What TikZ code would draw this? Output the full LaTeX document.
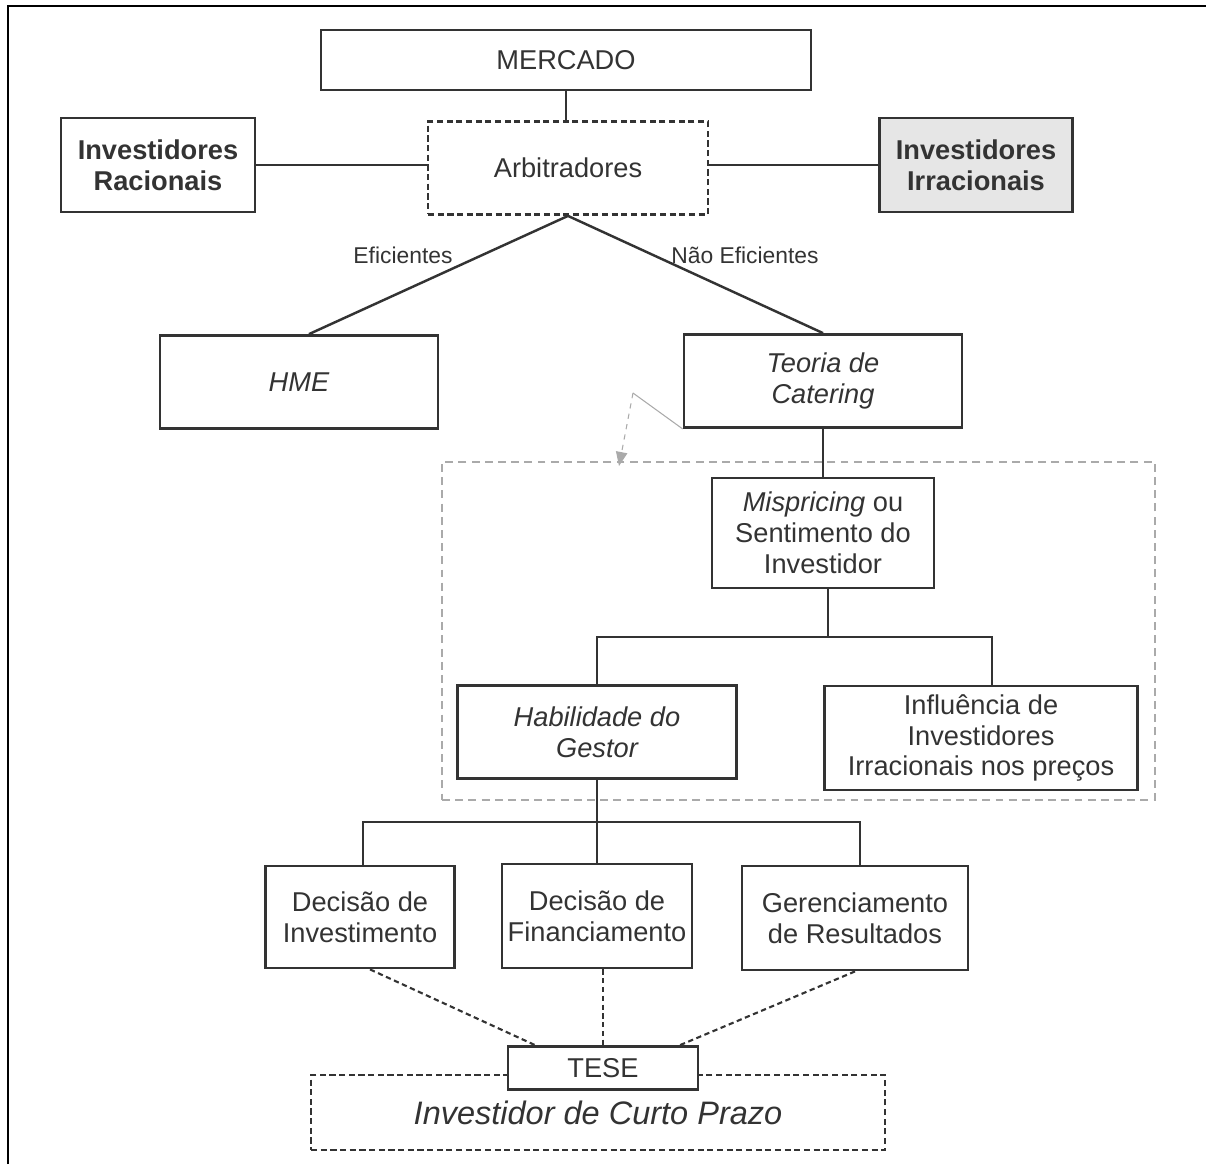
\documentclass[tikz,border=0pt]{standalone}
\usepackage{fontspec}
\setmainfont{Liberation Sans}
\usetikzlibrary{arrows.meta,positioning}
\definecolor{ink}{RGB}{51,51,51}
\definecolor{irrfill}{RGB}{230,230,230}
\definecolor{zonegray}{RGB}{170,170,170}
\newcommand{\boxfont}{\fontsize{15.5}{17.6}\selectfont}
\tikzset{
  box/.style      = {draw=ink, line width=1.6pt, inner sep=0pt, align=center,
                     text=ink, font=\boxfont},
  dashbox/.style  = {box, dash pattern=on 3.5pt off 2pt},
  link/.style     = {draw=ink, line width=1.4pt},
  dashlink/.style = {draw=ink, line width=1.2pt, dash pattern=on 3pt off 2pt},
  edgelabel/.style= {text=ink, font=\fontsize{13}{15}\selectfont},
  zone/.style     = {draw=zonegray, line width=1.5pt, dash pattern=on 4.5pt off 3pt},
  pointer/.style  = {draw=zonegray, line width=0.6pt},
}

\begin{document}
\begin{tikzpicture}[x=0.02cm,y=-0.02cm]
  \useasboundingbox (0,0) rectangle (1206,1164);
  % outer frame (only top and left edges visible)
  \draw[line width=1.1pt] (8,1164) -- (8,6) -- (1206,6);

  % ---------------- market level -----------------------------------------
  \node[box, minimum width=9.8cm, minimum height=1.2cm] (mercado) at (566,60) {MERCADO};
  \node[dashbox, minimum width=5.6cm, minimum height=1.86cm] (arb) at (568,168) {Arbitradores};
  \node[box, font=\boxfont\bfseries, minimum width=3.88cm, minimum height=1.88cm]
       (rac) at (158,165) {Investidores\\Racionais};
  \node[box, font=\boxfont\bfseries, fill=irrfill, minimum width=3.86cm, minimum height=1.88cm]
       (irr) at (976,165) {Investidores\\Irracionais};

  \draw[link] (mercado.south) -- (mercado.south |- arb.north);
  \draw[link] (rac.east) -- (rac.east -| arb.west);
  \draw[link] (irr.west) -- (irr.west -| arb.east);

  % ---------------- efficient / not efficient ----------------------------
  \node[box, font=\boxfont\itshape, minimum width=5.56cm, minimum height=1.86cm]
       (hme) at (299,382) {HME};
  \node[box, font=\boxfont\itshape, minimum width=5.56cm, minimum height=1.86cm]
       (teoria) at (823,381) {Teoria de\\Catering};
  \draw[link] (arb.south) -- ([xshift=0.2cm]hme.north);
  \draw[link] (arb.south) -- (teoria.north);
  \node[edgelabel] (ef) at (403,255) {Eficientes};
  \node[edgelabel] (nef) at (745,255) {Não Eficientes};

  % ---------------- catering zone ----------------------------------------
  \node[zone, minimum width=14.26cm, minimum height=6.76cm] (cater) at (798.5,631) {};
  \coordinate (bend) at (633,393);
  \coordinate (tip) at (619,466);
  \draw[pointer] (teoria.south west) -- (bend);
  \draw[pointer, dashed, -{Triangle[length=8pt,width=6.5pt]}] (bend) -- (tip);

  \node[box, minimum width=4.44cm, minimum height=2.2cm]
       (misp) at (823,533) {\textit{Mispricing} ou\\Sentimento do\\Investidor};
  \draw[link] (misp.north |- teoria.south) -- (misp.north);

  \node[box, font=\boxfont\itshape, minimum width=5.58cm, minimum height=1.86cm]
       (hab) at (597,732) {Habilidade do\\Gestor};
  \node[box, minimum width=6.26cm, minimum height=2.08cm]
       (infl) at (981,738) {Influência de\\Investidores\\Irracionais nos preços};
  \coordinate (split) at (828,637);
  \draw[link] (misp.south -| split) -- (split);
  \draw[link] (split) -| (hab.north);
  \draw[link] (split) -| ([xshift=0.22cm]infl.north);

  % ---------------- decisions --------------------------------------------
  \node[box, minimum width=3.78cm, minimum height=2.04cm]
       (decinv) at (360,917) {Decisão de\\Investimento};
  \node[box, minimum width=3.8cm, minimum height=2.08cm]
       (decfin) at (597,916) {Decisão de\\Financiamento};
  \node[box, minimum width=4.52cm, minimum height=2.08cm]
       (ger) at (855,918) {Gerenciamento\\de Resultados};
  \coordinate (fork) at (597,822);
  \draw[link] (hab.south) -- (fork);
  \draw[link] (fork) -| ([xshift=0.06cm]decinv.north);
  \draw[link] (fork) -- (decfin.north);
  \draw[link] (fork) -| ([xshift=0.1cm]ger.north);

  % ---------------- thesis -----------------------------------------------
  \node[dashbox, font=\fontsize{18.5}{21}\selectfont\itshape,
        minimum width=11.48cm, minimum height=1.5cm]
       (curto) at (598,1112.5) {\raisebox{-0.8ex}{Investidor de Curto Prazo}};
  \node[box, fill=white, minimum width=3.8cm, minimum height=0.86cm]
       (tese) at (603,1068) {TESE};
  \draw[dashlink] ([xshift=0.2cm]decinv.south) -- ([xshift=-1.36cm]tese.north);
  \draw[dashlink] (decfin.south -| tese.north) -- (tese.north);
  \draw[dashlink] (ger.south) -- ([xshift=1.54cm]tese.north);
\end{tikzpicture}
\end{document}
